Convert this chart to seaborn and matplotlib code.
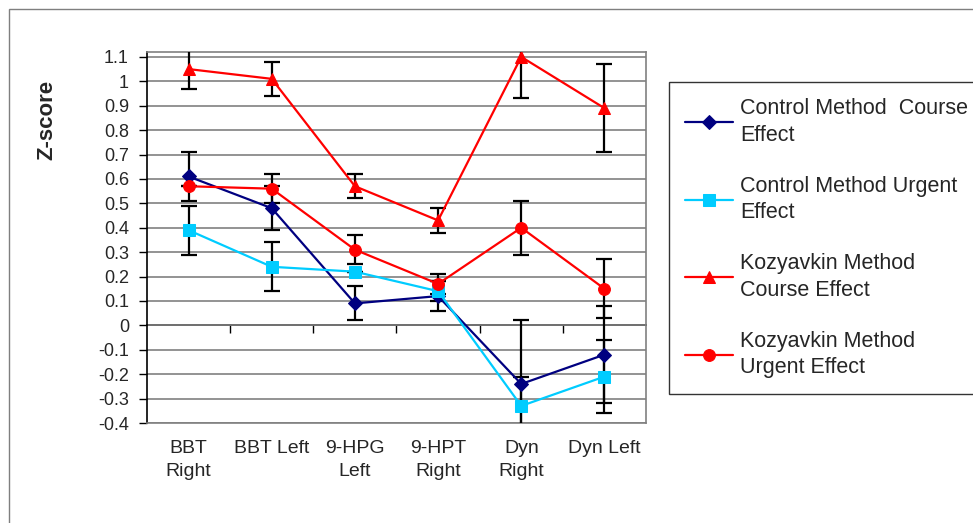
import numpy as np
import pandas as pd
import matplotlib
matplotlib.use("Agg")
import matplotlib.pyplot as plt
import matplotlib.patches as mpatches
import seaborn as sns

# ---------------------------------------------------------------------------
# Dados
# ---------------------------------------------------------------------------
categorias = ["BBT\nRight", "BBT Left", "9-HPG\nLeft", "9-HPT\nRight", "Dyn\nRight", "Dyn Left"]

controlo_curso = [0.61, 0.48, 0.09, 0.12, -0.24, -0.12]
controlo_curso_err = [0.10, 0.09, 0.07, 0.06, 0.26, 0.20]

controlo_urgente = [0.39, 0.24, 0.22, 0.14, -0.33, -0.21]
controlo_urgente_err = [0.10, 0.10, 0.00, 0.04, 0.12, 0.15]

kozyavkin_curso = [1.05, 1.01, 0.57, 0.43, 1.10, 0.89]
kozyavkin_curso_err = [0.08, 0.07, 0.05, 0.05, 0.17, 0.18]

kozyavkin_urgente = [0.57, 0.56, 0.31, 0.17, 0.40, 0.15]
kozyavkin_urgente_err = [0.00, 0.06, 0.06, 0.04, 0.11, 0.12]

series = [
    ("Control Method  Course\nEffect", controlo_curso, controlo_curso_err, "#000080", "D", 7),
    ("Control Method Urgent\nEffect", controlo_urgente, controlo_urgente_err, "#00CCFF", "s", 8.5),
    ("Kozyavkin Method\nCourse Effect", kozyavkin_curso, kozyavkin_curso_err, "#FF0000", "^", 8.5),
    ("Kozyavkin Method\nUrgent Effect", kozyavkin_urgente, kozyavkin_urgente_err, "#FF0000", "o", 8.5),
]

# ---------------------------------------------------------------------------
# Configuração
# ---------------------------------------------------------------------------
sns.set_style("white")
plt.rcParams["font.family"] = ["Liberation Sans", "DejaVu Sans"]

fig = plt.figure(figsize=(9.73, 5.23), dpi=100)
ax = fig.add_axes([147 / 973, 1 - 423 / 523, (646 - 147) / 973, (423 - 52) / 523])

x = np.arange(len(categorias))

for nome, valores, erros, cor, marcador, tam in series:
    ax.errorbar(x, valores, yerr=erros, fmt="none", ecolor="black", elinewidth=1.6,
                capsize=5.5, capthick=1.6, zorder=3)
    df = pd.DataFrame({"x": x, "y": valores})
    sns.lineplot(data=df, x="x", y="y", color=cor, marker=marcador, markersize=tam,
                 markeredgecolor=cor, linewidth=1.6, label=nome, ax=ax, zorder=4)

ymin, ymax = -0.4, 1.12
ax.set_xlim(-0.5, len(categorias) - 0.5)
ax.set_ylim(ymin, ymax)
valores_y = np.arange(-0.4, 1.101, 0.1)
ax.set_yticks(np.round(valores_y, 1))
ax.set_yticklabels(["0" if abs(v) < 1e-9 else ("1" if abs(v - 1) < 1e-9 else f"{v:.1f}")
                    for v in valores_y], fontsize=13)
ax.yaxis.grid(True, color="#808080", linewidth=1.2)
ax.set_axisbelow(True)
ax.tick_params(axis="y", direction="out", length=6, width=1, color="black", left=True, pad=7)

ax.set_xticks(x)
ax.set_xticklabels(categorias, fontsize=14, linespacing=1.45)
ax.tick_params(axis="x", length=0, pad=12)
ax.set_xlabel("")
ax.set_ylabel("")

for lado in ["top", "right", "bottom"]:
    ax.spines[lado].set_color("#808080")
    ax.spines[lado].set_linewidth(1.2)
ax.spines["left"].set_color("black")
ax.spines["left"].set_linewidth(1.2)

# eixo horizontal no zero com marcas entre categorias
zero = (0 - ymin) / (ymax - ymin)
sec = ax.secondary_xaxis(zero)
sec.set_xticks(np.arange(0.5, len(categorias) - 0.5, 1))
sec.set_xticklabels([])
sec.tick_params(direction="out", length=6, width=1, color="black")
sec.spines["bottom"].set_color("black")
sec.spines["bottom"].set_linewidth(1.2)

fig.text(47 / 973, 1 - 120 / 523, "Z-score", rotation=90, fontsize=16, fontweight="bold",
         ha="center", va="center")

leg = ax.legend(loc="upper left", bbox_to_anchor=(669 / 973, 1 - 82 / 523),
                bbox_transform=fig.transFigure, fontsize=15.5, frameon=True, fancybox=False,
                edgecolor="black", handlelength=2.2, handletextpad=0.35, labelspacing=1.4,
                borderpad=0.75, borderaxespad=0)
leg.get_frame().set_linewidth(1.0)
for t in leg.get_texts():
    t.set_linespacing(1.34)

# moldura exterior do gráfico
fig.patches.append(mpatches.Rectangle((9 / 973, -0.1), 1.2, 1 - 9 / 523 + 0.1,
                                      transform=fig.transFigure, fill=False,
                                      edgecolor="#7f7f7f", linewidth=1.0))

fig.savefig("out.png", dpi=100)
